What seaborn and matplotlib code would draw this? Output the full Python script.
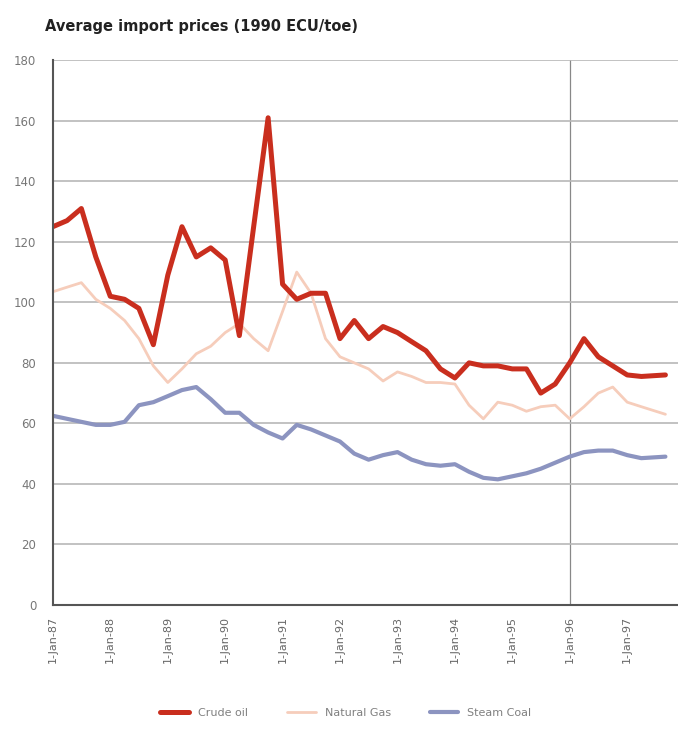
"""
Average import prices (1990 ECU/toe) - crude oil, natural gas, steam coal.
"""
import pandas as pd
import numpy as np
import matplotlib
matplotlib.use('Agg')
import matplotlib.pyplot as plt
import seaborn as sns

# quarterly values, 1987Q1 .. 1997Q3 (last reading taken in September 1997)
quarters = list(pd.date_range('1987-01-01', periods=42, freq='QS')) + [pd.Timestamp('1997-09-01')]

crude_oil = [125, 127, 131, 115, 102, 101, 98, 86, 109, 125, 115, 118,
             114, 89, 125, 161, 106, 101, 103, 103, 88, 94, 88, 92,
             90, 87, 84, 78, 75, 80, 79, 79, 78, 78, 70, 73,
             80, 88, 82, 79, 76, 75.5, 76]

natural_gas = [103.5, 105, 106.5, 101, 98, 94, 88, 79, 73.5, 78, 83, 85.5,
               90, 93, 88, 84, 97, 110, 103, 88, 82, 80, 78, 74,
               77, 75.5, 73.5, 73.5, 73, 66, 61.5, 67, 66, 64, 65.5, 66,
               61.5, 65.5, 70, 72, 67, 65.5, 63]

steam_coal = [62.5, 61.5, 60.5, 59.5, 59.5, 60.5, 66, 67, 69, 71, 72, 68,
              63.5, 63.5, 59.5, 57, 55, 59.5, 58, 56, 54, 50, 48, 49.5,
              50.5, 48, 46.5, 46, 46.5, 44, 42, 41.5, 42.5, 43.5, 45, 47,
              49, 50.5, 51, 51, 49.5, 48.5, 49]

series_names = ['Crude oil', 'Natural Gas', 'Steam Coal']
colors = {'Crude oil': '#c92e1e', 'Natural Gas': '#f6cdbb', 'Steam Coal': '#8c94c0'}
widths = {'Crude oil': 3.6, 'Natural Gas': 2.0, 'Steam Coal': 3.0}

df = pd.DataFrame({
    'date': quarters * 3,
    'price': crude_oil + natural_gas + steam_coal,
    'fuel': np.repeat(series_names, len(quarters)),
})

sns.set_style("white")
fig = plt.figure(figsize=(6.78, 7.35), dpi=100)
ax = fig.add_axes([0.078, 0.177, 0.922, 0.741])

# draw natural gas underneath the others, like the original
for name in ['Natural Gas', 'Steam Coal', 'Crude oil']:
    sns.lineplot(data=df[df['fuel'] == name], x='date', y='price', ax=ax,
                 color=colors[name], linewidth=widths[name], label=name,
                 solid_capstyle='round', solid_joinstyle='round')

ax.set_ylim(0, 180)
ax.set_yticks(range(0, 181, 20))
ax.set_xlim(pd.Timestamp('1987-01-01'), pd.Timestamp('1997-11-20'))
ax.yaxis.grid(True, color='#b8b8b8', linewidth=1.2)
ax.set_axisbelow(True)
ax.axvline(pd.Timestamp('1996-01-01'), color='#888888', linewidth=0.9, zorder=0)

years = pd.date_range('1987-01-01', '1997-01-01', freq='YS')
ax.set_xticks(years)
ax.set_xticklabels([d.strftime('1-Jan-%y') for d in years], rotation=90,
                   color='#666666', fontsize=8)
ax.tick_params(axis='x', direction='in', length=5, color='#bbbbbb', pad=8)
ax.tick_params(axis='y', length=0, labelcolor='#777777', labelsize=8.5, pad=12)
ax.set_xlabel('')
ax.set_ylabel('')

for side in ['top', 'right']:
    ax.spines[side].set_visible(False)
for side in ['left', 'bottom']:
    ax.spines[side].set_color('#555555')
    ax.spines[side].set_linewidth(1.5)

fig.text(0.066, 0.958, 'Average import prices (1990 ECU/toe)', fontsize=10.5,
         fontweight='bold', color='#222222')

handles, labels = ax.get_legend_handles_labels()
order = [labels.index(n) for n in series_names]
ax.get_legend().remove()
fig.legend([handles[i] for i in order], [labels[i] for i in order],
           loc='lower center', bbox_to_anchor=(0.51, 0.01), ncol=3, frameon=False,
           fontsize=8, labelcolor='#808080', handlelength=2.6, columnspacing=3.5)

plt.savefig('out.png', dpi=100)
